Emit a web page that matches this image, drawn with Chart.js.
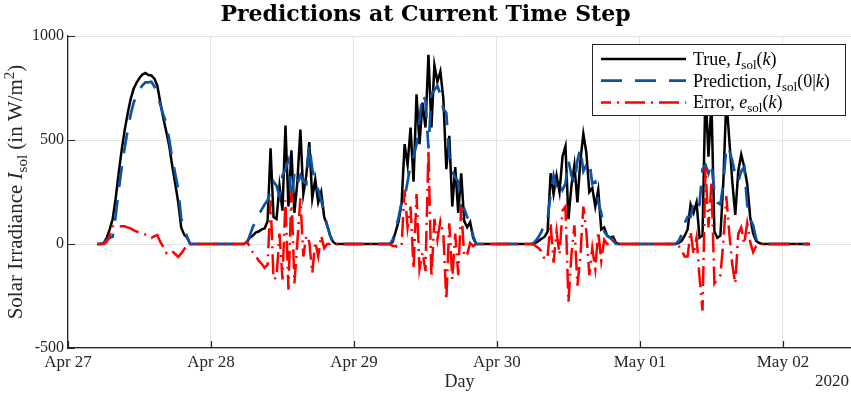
<!DOCTYPE html>
<html><head><meta charset="utf-8">
<script src="https://cdn.jsdelivr.net/npm/chart.js@4.4.0/dist/chart.umd.min.js"></script>
<style>html,body{margin:0;padding:0;background:#fff;}#wrap{width:851px;height:395px;}</style>
</head><body><div id="wrap"><canvas id="c" width="851" height="395"></canvas></div>
<script>
// ---- data (30-min samples of daylight periods; nights are 0) ----
const dayLabels = ['Apr 27','Apr 28','Apr 29','Apr 30','May 01','May 02'];
const yearLabel = '2020';
const yTickValues = [-500, 0, 500, 1000];
const sampleStepHours = 0.5;
const firstSampleHour = [5.0, 5.0, 5.5, 5.5, 5.5];
const seriesStartHour = 4.9;
const seriesEndHour = 124.5;
const xMaxDays = 5.476;

const trueApr27 = [0,0,5,30,70,120,220,340,450,545,625,695,745,775,798,815,822,812,810,795,760,680,605,540,470,375,290,200,80,45,30,0,0];
const predApr27 = [0,0,5,20,30,35,135,255,365,460,545,620,678,715,743,763,777,777,780,757,717,670,620,583,500,410,338,262,125,70,35,0,0];
const errApr27  = [0,0,0,10,40,85,85,85,85,85,80,75,67,60,55,52,45,35,30,38,43,10,-15,-43,-30,-35,-48,-62,-45,-25,-5,0,0];

const trueApr28 = [0,0,10,30,40,55,60,70,75,110,460,130,120,280,160,570,180,450,150,300,550,240,330,490,220,310,200,250,130,90,40,10,0];
const predApr28 = [0,0,0,40,80,110,140,165,190,210,250,300,280,230,330,360,400,200,340,290,330,300,290,480,360,300,260,210,150,90,40,5,0];
const errApr28  = [0,0,10,-10,-40,-55,-80,-95,-115,-100,210,-170,-160,50,-170,210,-220,250,-190,10,220,-60,40,10,-140,10,-60,40,-20,0,0,5,0];

const trueApr29 = [0,0,10,60,110,200,480,380,560,300,720,480,680,560,910,560,860,780,830,700,360,520,180,370,150,340,110,80,105,30,0];
const predApr29 = [0,0,20,70,130,200,220,300,380,420,480,600,720,690,460,720,740,760,720,650,630,420,350,320,300,160,170,130,100,40,0];
const errApr29  = [0,0,-10,-10,-20,0,260,80,180,-120,240,-120,-40,-130,450,-160,120,20,110,50,-270,100,-170,50,-150,180,-60,-50,5,-10,0];

const trueApr30 = [0,0,5,15,25,35,60,340,240,330,250,420,470,120,280,380,200,400,530,440,250,270,180,260,70,80,40,30,35,5,0];
const predApr30 = [0,0,15,35,60,110,120,240,330,270,300,260,290,400,330,290,400,460,350,380,400,290,300,200,150,60,40,30,15,0,0];
const errApr30  = [0,0,-10,-20,-35,-75,-60,100,-90,60,-50,160,180,-280,-50,90,-200,-60,180,60,-150,-20,-120,60,-80,20,0,0,20,5,0];

const trueMay01 = [0,0,5,15,40,70,190,150,200,30,40,750,420,680,60,30,40,300,700,500,300,140,350,430,370,290,130,50,15,5,0];
const predMay01 = [0,0,15,45,100,130,130,200,170,190,360,380,340,390,250,200,190,290,470,450,400,330,300,350,370,190,120,90,25,5,0];
const errMay01  = [0,0,-10,-30,-60,-60,60,-50,30,-160,-320,370,80,290,-190,-170,-150,10,230,50,-100,-190,50,80,0,100,10,-40,-10,0,0];

const titleText = 'Predictions at Current Time Step';
const xTitleText = 'Day';
// rich-text pieces: [text, style]  n=normal, i=italic, sub=subscript, sup=superscript
const yTitlePieces = [['Solar Irradiance ','n'],['I','i'],['sol','sub'],[' (in W/m','n'],['2','sup'],[')','n']];
const legendPieces = [
  [['True, ','n'],['I','i'],['sol','sub'],['(','n'],['k','i'],[')','n']],
  [['Prediction, ','n'],['I','i'],['sol','sub'],['(0|','n'],['k','i'],[')','n']],
  [['Error, ','n'],['e','i'],['sol','sub'],['(','n'],['k','i'],[')','n']]
];

// ---- build points ----
function build(days){
  const pts=[{x:seriesStartHour/24,y:0}];
  days.forEach((arr,d)=>arr.forEach((v,i)=>pts.push({x:d+(firstSampleHour[d]+i*sampleStepHours)/24,y:v})));
  pts.push({x:seriesEndHour/24,y:0});
  return pts;
}
const trueDays=[trueApr27,trueApr28,trueApr29,trueApr30,trueMay01];
const predDays=[predApr27,predApr28,predApr29,predApr30,predMay01];
const errDays=[errApr27,errApr28,errApr29,errApr30,errMay01];

const FONT='"Liberation Serif", "Times New Roman", serif';
const TITLEFONT='"DejaVu Serif", serif';
const AX='#262626';
const COLORS=['#000000','#0d52a3','#ff0000'];
const WIDTHS=[2.5,2.7,2.5];
const DASHES=[[],[21,13],[20,6,2,6]];

function pieceFont(s,size){
  if(s==='i') return 'italic '+size+'px '+FONT;
  if(s==='sub'||s==='sup') return Math.round(size*0.7)+'px '+FONT;
  return size+'px '+FONT;
}
function richWidth(ctx,pieces,size){
  let w=0;
  for(const [t,s] of pieces){ctx.font=pieceFont(s,size);w+=ctx.measureText(t).width;}
  return w;
}
function drawRich(ctx,pieces,x,y,size){
  ctx.textBaseline='alphabetic';ctx.textAlign='left';
  for(const [t,s] of pieces){
    ctx.font=pieceFont(s,size);
    let dy=0; if(s==='sub') dy=size*0.22; if(s==='sup') dy=-size*0.4;
    ctx.fillText(t,x,y+dy);
    x+=ctx.measureText(t).width;
  }
}

const extras={
  id:'extras',
  afterDraw(chart){
    const ctx=chart.ctx, ca=chart.chartArea, xs=chart.scales.x, ys=chart.scales.y;
    ctx.save();
    // inner tick marks
    ctx.strokeStyle=AX;ctx.lineWidth=1.2;ctx.setLineDash([]);
    ctx.beginPath();
    for(let i=0;i<dayLabels.length;i++){const px=Math.round(xs.getPixelForValue(i))+0.5;ctx.moveTo(px,ca.bottom);ctx.lineTo(px,ca.bottom-7);}
    for(const v of yTickValues){const py=Math.round(ys.getPixelForValue(v))+0.5;ctx.moveTo(ca.left,py);ctx.lineTo(ca.left+7,py);}
    ctx.stroke();
    // year label
    ctx.fillStyle=AX;ctx.font='17px '+FONT;ctx.textAlign='right';ctx.textBaseline='middle';
    ctx.fillText(yearLabel,849,382);
    // y title (rotated, rich)
    ctx.save();
    ctx.translate(22,(ca.top+ca.bottom)/2);ctx.rotate(-Math.PI/2);
    ctx.fillStyle=AX;
    const tw=richWidth(ctx,yTitlePieces,21);
    drawRich(ctx,yTitlePieces,-tw/2,0,21);
    ctx.restore();
    // legend
    const L=592,T=44,R=846,B=116;
    ctx.fillStyle='#fff';ctx.fillRect(L,T,R-L,B-T);
    ctx.strokeStyle=AX;ctx.lineWidth=1;ctx.strokeRect(L+0.5,T+0.5,R-L-1,B-T-1);
    const rows=[59,80.7,102.4];
    rows.forEach((ry,k)=>{
      ctx.save();
      ctx.strokeStyle=COLORS[k];ctx.lineWidth=WIDTHS[k];ctx.setLineDash(DASHES[k]);
      if(k===2) ctx.lineDashOffset=10;
      ctx.beginPath();ctx.moveTo(601,ry);ctx.lineTo(686,ry);ctx.stroke();
      ctx.restore();
      ctx.fillStyle='#000';
      drawRich(ctx,legendPieces[k],693,ry+6,18);
    });
    ctx.restore();
  }
};

new Chart(document.getElementById('c'),{
  type:'line',
  data:{datasets:[
    {label:'True',data:build(trueDays),borderColor:COLORS[0],borderWidth:WIDTHS[0],borderDash:DASHES[0],pointRadius:0,tension:0,order:3},
    {label:'Prediction',data:build(predDays),borderColor:COLORS[1],borderWidth:WIDTHS[1],borderDash:DASHES[1],pointRadius:0,tension:0,order:2},
    {label:'Error',data:build(errDays),borderColor:COLORS[2],borderWidth:WIDTHS[2],borderDash:DASHES[2],pointRadius:0,tension:0,order:1}
  ]},
  options:{
    responsive:false,animation:false,devicePixelRatio:1,
    layout:{padding:0},
    plugins:{
      legend:{display:false},tooltip:{enabled:false},
      title:{display:true,text:titleText,color:'#000',font:{family:TITLEFONT,size:22,weight:'bold',lineHeight:1.2},padding:{top:2,bottom:7.6}}
    },
    scales:{
      x:{type:'linear',min:0,max:xMaxDays,
        ticks:{stepSize:1,includeBounds:false,autoSkip:false,maxRotation:0,callback:v=>dayLabels[v],font:{family:FONT,size:17},color:AX,padding:4},
        grid:{color:'#e2e2e2',lineWidth:1,drawTicks:false},
        border:{color:AX,width:1.2},
        title:{display:true,text:xTitleText,color:AX,font:{family:FONT,size:18},padding:{top:0,bottom:2}},
        afterFit(s){s.height=47;}
      },
      y:{min:-500,max:1000,
        ticks:{stepSize:500,callback:v=>String(v),font:{family:FONT,size:16},color:AX,padding:4},
        grid:{color:'#e2e2e2',lineWidth:1,drawTicks:false},
        border:{color:AX,width:1.2},
        afterFit(s){s.width=68;}
      }
    }
  },
  plugins:[extras]
});
</script></body></html>
